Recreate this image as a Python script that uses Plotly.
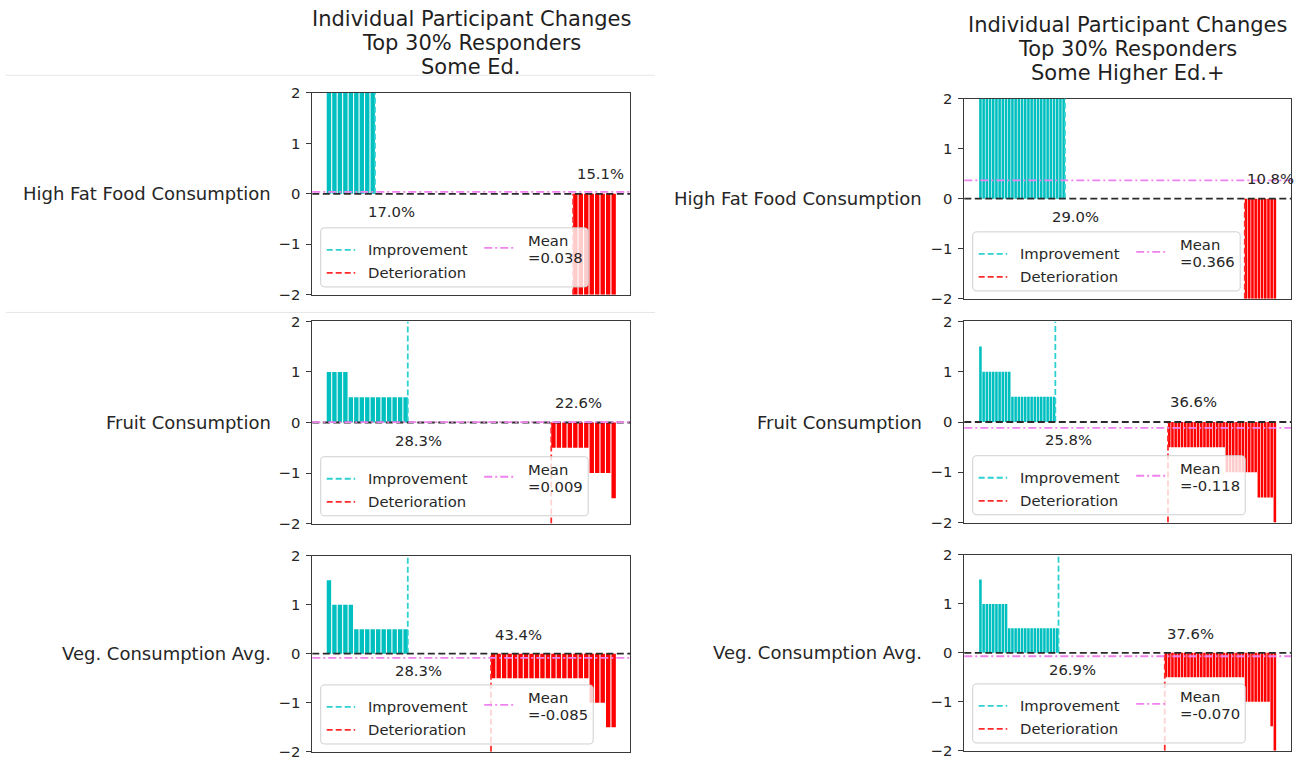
import numpy as np
import plotly.graph_objects as go

W, H = 1299, 764
# layout positions below are in screen pixels; vertical offset/scale of the drawing area
Y_OFF, Y_SCALE = 7.8, 0.977
FONT = "DejaVu Sans"
TXT = "#262626"

# ---------------- data ----------------
title_lines = ["Individual Participant Changes", "Top 30% Responders"]
group_names = ["Some Ed.", "Some Higher Ed.+"]
row_labels = ["High Fat Food Consumption", "Fruit Consumption", "Veg. Consumption Avg."]

# Sorted individual changes: each level with the number of participants at it
fat_some_ed_levels = [2.0, 0.0, -2.0]
fat_some_ed_counts = [9, 36, 8]
fruit_some_ed_levels = [1.0, 0.5, 0.0, -0.5, -1.0, -1.5]
fruit_some_ed_counts = [4, 11, 26, 7, 4, 1]
veg_some_ed_levels = [1.5, 1.0, 0.5, 0.0, -0.5, -1.0, -1.5]
veg_some_ed_counts = [1, 4, 10, 15, 18, 3, 2]

fat_higher_ed_levels = [2.0, 0.0, -2.0]
fat_higher_ed_counts = [27, 56, 10]
fruit_higher_ed_levels = [1.5, 1.0, 0.5, 0.0, -0.5, -1.0, -1.5, -2.0]
fruit_higher_ed_counts = [1, 9, 14, 35, 18, 10, 5, 1]
veg_higher_ed_levels = [1.5, 1.0, 0.5, 0.0, -0.5, -1.0, -1.5, -2.0]
veg_higher_ed_counts = [1, 8, 16, 33, 25, 8, 1, 1]

y_ticks = [-2, -1, 0, 1, 2]

panel_data = [
    (fat_some_ed_levels, fat_some_ed_counts),
    (fruit_some_ed_levels, fruit_some_ed_counts),
    (veg_some_ed_levels, veg_some_ed_counts),
    (fat_higher_ed_levels, fat_higher_ed_counts),
    (fruit_higher_ed_levels, fruit_higher_ed_counts),
    (veg_higher_ed_levels, veg_higher_ed_counts),
]

# ---------------- layout geometry (screen pixels) ----------------
col_x = [(312.3, 630.3), (964.3, 1291.0)]
row_y = [
    [(91.7, 293.3), (320.0, 522.0), (554.0, 750.0)],
    [(97.3, 297.3), (320.0, 521.0), (553.3, 749.0)],
]
title_y = [[18, 42, 66], [24, 48, 72]]
label_right = [273, 924]
imp_label_x = [7.2, 12.1, 12.1, 22.4, 20.3, 21.3]

C_BAR_POS = "#00BFBF"
C_BAR_NEG = "#FF0000"
C_IMP = "#2ED0D0"
C_DET = "#FF2A2A"
C_MEAN = "#EE82EE"
C_ZERO = "#2b2b2b"
AX = "#3a3a3a"
LW = 1.8


def px(x):
    return x / W


def py(y):
    return min(1.0, max(0.0, 1 - ((y - Y_OFF) / Y_SCALE) / H))


fig = go.Figure()
shapes = []
annotations = []
layout_axes = {}


def rrect_path(xl, yt, w, h, r=4):
    pts = [
        ("M", [(xl + r, yt)]),
        ("L", [(xl + w - r, yt)]),
        ("Q", [(xl + w, yt), (xl + w, yt + r)]),
        ("L", [(xl + w, yt + h - r)]),
        ("Q", [(xl + w, yt + h), (xl + w - r, yt + h)]),
        ("L", [(xl + r, yt + h)]),
        ("Q", [(xl, yt + h), (xl, yt + h - r)]),
        ("L", [(xl, yt + r)]),
        ("Q", [(xl, yt), (xl + r, yt)]),
    ]
    s = ""
    for cmd, plist in pts:
        s += cmd + " ".join(f"{px(a):.6f},{py(b):.6f}" for a, b in plist) + " "
    return s + "Z"


def text(x, y, s, size=14.8, xanchor="left", color=TXT):
    annotations.append(dict(
        x=px(x), y=py(y), xref="paper", yref="paper", text=s, showarrow=False,
        xanchor=xanchor, yanchor="middle", font=dict(family=FONT, size=size, color=color),
        xshift=-2 if xanchor == "left" else 0,
    ))


for k, (levels, counts) in enumerate(panel_data):
    col, row = divmod(k, 3)
    i = k + 1
    suffix = "" if i == 1 else str(i)
    xa, ya = f"x{suffix}", f"y{suffix}"
    vals = np.repeat(np.array(levels, dtype=float), counts)
    n = len(vals)
    idx = np.arange(n)
    n_pos = int((vals > 0).sum())
    n_neg = int((vals < 0).sum())
    mean = float(vals.mean())
    colors = [C_BAR_POS if v > 0 else C_BAR_NEG for v in vals]

    fig.add_trace(go.Bar(
        x=idx, y=vals, width=0.8, xaxis=xa, yaxis=ya,
        marker=dict(color=colors, line=dict(width=0)),
        showlegend=False, hoverinfo="skip",
    ))

    span = n - 0.2
    lo, hi = -0.4 - 0.05 * span, n - 0.6 + 0.05 * span
    x0, x1 = col_x[col]
    yt, yb = row_y[col][row]
    layout_axes[f"xaxis{suffix}"] = dict(
        domain=[px(x0), px(x1)], range=[lo, hi], anchor=ya,
        showticklabels=False, ticks="", showgrid=False, zeroline=False,
        showline=True, mirror=True, linecolor=AX, linewidth=1,
    )
    layout_axes[f"yaxis{suffix}"] = dict(
        domain=[py(yb), py(yt)], range=[-2, 2], anchor=xa,
        tickvals=y_ticks, ticks="outside", ticklen=5, tickcolor=AX, tickwidth=1,
        ticklabelstandoff=3,
        tickfont=dict(family=FONT, size=14.8, color=TXT),
        showgrid=False, zeroline=False,
        showline=True, mirror=True, linecolor=AX, linewidth=1,
    )

    # boundary of improvers / deteriorators
    shapes.append(dict(type="line", xref=xa, yref=ya, x0=n_pos - 0.6, x1=n_pos - 0.6,
                       y0=0, y1=2, line=dict(color=C_IMP, width=LW, dash="6px,3px")))
    xd = n - n_neg - 0.4
    shapes.append(dict(type="line", xref=xa, yref=ya, x0=xd, x1=xd,
                       y0=-2, y1=0, line=dict(color=C_DET, width=LW, dash="6px,3px")))
    # zero and mean reference lines
    shapes.append(dict(type="line", xref=f"{xa} domain", yref=ya, x0=0, x1=1, y0=0, y1=0,
                       line=dict(color=C_ZERO, width=LW, dash="7px,3.5px")))
    shapes.append(dict(type="line", xref=f"{xa} domain", yref=ya, x0=0, x1=1, y0=mean, y1=mean,
                       line=dict(color=C_MEAN, width=LW, dash="8px,3px,2px,3px")))

    # share labels
    annotations.append(dict(x=imp_label_x[k], y=-0.35, xref=xa, yref=ya,
                            text=f"{100 * n_pos / n:.1f}%", showarrow=False,
                            xanchor="left", yanchor="middle", xshift=-2,
                            font=dict(family=FONT, size=14.8, color=TXT)))
    annotations.append(dict(x=n - n_neg + 0.3, y=0.4, xref=xa, yref=ya,
                            text=f"{100 * n_neg / n:.1f}%", showarrow=False,
                            xanchor="left", yanchor="middle", xshift=-2,
                            font=dict(family=FONT, size=14.8, color=TXT)))

    # row label
    zero_y = yt + (yb - yt) / 2
    text(label_right[col], zero_y, row_labels[row], size=18, xanchor="right")

    # in-panel legend box
    mean_txt = f"={mean:.3f}"
    bw = 267.5 + (5 if mean < 0 else 0)
    bh = 59
    bl = x0 + 8.4
    bt = yb - 7.8 - bh
    shapes.append(dict(type="path", xref="paper", yref="paper", path=rrect_path(bl, bt, bw, bh),
                       fillcolor="rgba(255,255,255,0.8)", line=dict(color="#cfcfcf", width=1)))
    for (hy, hc, hd, lab) in [(22, C_IMP, "6px,3px", "Improvement"),
                              (45, C_DET, "6px,3px", "Deterioration")]:
        shapes.append(dict(type="line", xref="paper", yref="paper",
                           x0=px(bl + 6), x1=px(bl + 34.5), y0=py(bt + hy), y1=py(bt + hy),
                           line=dict(color=hc, width=LW, dash=hd)))
        text(bl + 47.5, bt + hy, lab)
    shapes.append(dict(type="line", xref="paper", yref="paper",
                       x0=px(bl + 163.5), x1=px(bl + 192.5), y0=py(bt + 20), y1=py(bt + 20),
                       line=dict(color=C_MEAN, width=LW, dash="8px,3px,2px,3px")))
    text(bl + 207, bt + 12.5, "Mean")
    text(bl + 207, bt + 30, mean_txt)

# column titles
for col in range(2):
    cx = (col_x[col][0] + col_x[col][1]) / 2
    for line, yy in zip(title_lines + [group_names[col]], title_y[col]):
        text(cx, yy, line, size=21, xanchor="center", color="#1f1f1f")

# thin separators on the left column
for yy in (74, 311):
    shapes.append(dict(type="line", xref="paper", yref="paper", x0=px(6), x1=px(655),
                       y0=py(yy), y1=py(yy), layer="below",
                       line=dict(color="#e6e6e6", width=1)))

fig.update_layout(
    width=W, height=H, autosize=False,
    margin=dict(l=0, r=0, t=0, b=0),
    paper_bgcolor="white", plot_bgcolor="white",
    showlegend=False, shapes=shapes, annotations=annotations,
    font=dict(family=FONT, color=TXT),
    **layout_axes,
)

fig.write_html("out.html")
